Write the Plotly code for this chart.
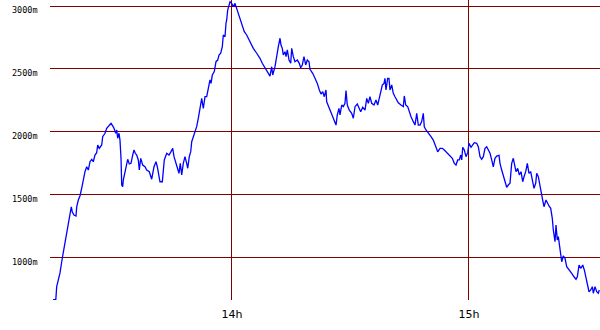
import plotly.graph_objects as go

# time in minutes after 13:00
minutes = [14.7, 15.4, 15.63, 16.46, 17.04, 17.73, 18.16, 18.56, 18.99, 19.32, 19.58, 20.0, 20.51, 20.69, 21.1, 21.53, 21.96, 22.36, 22.79, 23.22, 23.63, 24.06, 24.49, 24.89, 25.32, 25.75, 26.01, 26.41, 27.02, 27.27, 27.86, 28.29, 28.95, 29.38, 29.81, 30.14, 30.57, 30.82, 31.07, 31.4, 31.65, 31.91, 32.09, 32.34, 32.49, 32.92, 33.35, 33.6, 34.01, 34.44, 34.87, 35.2, 35.53, 35.88, 36.29, 36.54, 36.9, 37.4, 37.98, 38.41, 39.07, 39.68, 40.26, 40.77, 41.1, 41.61,
           41.78, 42.37, 42.87, 43.48, 44.06, 44.57, 45.0, 45.33, 45.76, 46.27, 46.59, 46.92, 47.28, 47.68, 48.11, 48.54, 48.8, 49.2, 49.56, 49.81, 50.31, 50.64, 51.07, 51.48, 51.91, 52.34, 52.75, 53.18, 53.61, 54.01, 54.44, 54.7, 55.03, 55.53, 55.71, 55.96, 56.39, 56.72, 57.15, 57.56, 57.81, 58.24, 58.49, 58.67, 58.92, 59.25, 59.51, 59.94, 60.34, 60.77, 61.2, 61.61, 62.04, 62.47, 63.13, 63.73, 64.57, 65.41, 66.27, 67.1, 67.68, 68.19,
           68.62, 69.2, 69.63, 70.06, 70.32, 70.9, 71.33, 71.74, 72.17, 72.42, 72.75, 73.0, 73.43, 73.69, 74.02, 74.45, 74.88, 75.13, 75.54, 75.96, 76.55, 77.05, 77.41, 77.81, 78.24, 78.67, 79.08, 79.51, 79.76, 80.44, 81.03, 81.61, 82.12, 82.55, 82.98, 83.38, 83.81, 83.99, 84.65, 85.26, 85.84, 86.35, 86.67, 87.1, 87.36, 87.79, 88.19, 88.62, 88.88, 89.21, 89.71, 90.32, 90.73, 91.16, 91.74, 92.25, 92.6, 93.11, 93.69,
           94.12, 94.53, 94.95, 95.38, 95.97, 96.47, 96.9, 97.31, 97.74, 98.07, 98.5, 98.75, 99.0, 99.43, 99.76, 100.02, 100.45, 100.85, 101.28, 101.71, 102.12, 102.8, 103.39, 103.64, 104.0, 104.5, 104.91, 105.34, 105.92, 106.35, 106.78, 107.19, 107.61, 108.04, 108.45, 108.7, 109.13, 109.71, 110.4, 110.98, 111.59, 112.1, 112.68, 113.26, 113.77, 114.2, 114.63, 115.21, 115.8, 116.3, 116.73, 117.16, 117.57, 117.92, 118.18, 118.43, 118.83, 119.26, 119.69, 120.02, 120.53, 120.96, 121.37,
           121.97, 122.38, 122.81, 123.24, 123.65, 124.07, 124.5, 124.91, 125.34, 125.77, 126.17, 126.6, 127.03, 127.62, 127.87, 128.3, 128.71, 129.14, 129.57, 129.97, 130.4, 130.83, 131.24, 131.49, 131.92, 132.35, 132.76, 133.19, 133.62, 133.95, 134.38, 134.79, 135.21, 135.64, 136.05, 136.48, 136.91, 137.16, 137.57, 138.0, 138.43, 138.68, 139.01, 139.52, 139.85, 140.28, 140.71, 141.11, 141.37, 141.8, 142.05, 142.38, 142.64, 142.89, 143.24, 143.5, 143.9, 144.33, 144.76, 145.35, 146.03, 146.61, 147.12, 147.45, 147.88, 148.39, 148.82, 149.22, 149.65, 149.98, 150.41, 150.84, 151.25, 151.5, 151.93, 152.36, 152.76, 153.01]

altitude = [670, 670, 772, 881, 998, 1119, 1198, 1278, 1341, 1405, 1365, 1341, 1333, 1405, 1460, 1494, 1555, 1619, 1685, 1724, 1698, 1764, 1783, 1764, 1817, 1836, 1897, 1870, 1897, 1963, 1990, 2029, 2055, 2069, 2048, 2029, 1990, 2016, 1950, 1990, 1936, 1791, 1579, 1566, 1619, 1685, 1738, 1783, 1746, 1751, 1817, 1857, 1831, 1817, 1778, 1698, 1791, 1738, 1724, 1698, 1685, 1625, 1724, 1764, 1724, 1645,
            1605, 1605, 1778, 1831, 1817, 1844, 1870, 1804, 1751, 1698, 1672, 1751, 1659, 1751, 1804, 1751, 1712, 1804, 1844, 1923, 1976, 2002, 2042, 2109, 2201, 2267, 2188, 2280, 2280, 2347, 2413, 2386, 2452, 2479, 2506, 2558, 2571, 2611, 2625, 2677, 2770, 2756, 2863, 2889, 2968, 3008, 3034, 3021, 2994, 3021, 2982, 2942, 2889, 2849, 2796, 2770, 2717, 2664, 2625, 2585, 2545, 2518,
            2506, 2466, 2444, 2518, 2452, 2518, 2611, 2677, 2744, 2690, 2664, 2611, 2637, 2598, 2651, 2571, 2545, 2664, 2598, 2558, 2571, 2545, 2510, 2532, 2598, 2532, 2571, 2558, 2498, 2466, 2426, 2386, 2333, 2301, 2320, 2280, 2333, 2240, 2188, 2135, 2095, 2055, 2135, 2188, 2135, 2214, 2201, 2228, 2328, 2214, 2174, 2148, 2109, 2201, 2222, 2188, 2161, 2196, 2174,
            2267, 2228, 2280, 2228, 2214, 2254, 2214, 2267, 2307, 2373, 2386, 2426, 2333, 2426, 2426, 2333, 2373, 2307, 2280, 2254, 2232, 2214, 2201, 2286, 2214, 2201, 2161, 2121, 2082, 2055, 2148, 2055, 2055, 2082, 2148, 2042, 2016, 1994, 1963, 1936, 1883, 1843, 1870, 1870, 1857, 1843, 1823, 1804, 1791, 1751, 1738, 1778, 1778, 1817, 1778, 1878, 1857, 1804, 1836, 1910, 1878, 1897, 1915,
            1910, 1883, 1804, 1783, 1804, 1870, 1883, 1857, 1831, 1778, 1724, 1791, 1809, 1815, 1751, 1698, 1659, 1605, 1561, 1579, 1593, 1751, 1791, 1751, 1685, 1712, 1659, 1685, 1605, 1645, 1685, 1751, 1672, 1685, 1605, 1553, 1593, 1672, 1645, 1553, 1500, 1460, 1407, 1460, 1434, 1413, 1394, 1315, 1222, 1129, 1262, 1143, 1169, 1116, 1050, 970, 1016, 997, 931, 910, 878, 851, 831, 851, 944, 918, 944, 905, 851, 786, 732, 746, 772, 720, 772, 732, 720, 746]

y_ticks = [1000, 1500, 2000, 2500, 3000]
y_tick_labels = ["1000m", "1500m", "2000m", "2500m", "3000m"]
x_ticks = [60, 120]
x_tick_labels = ["14h", "15h"]

GRID = "#800000"

fig = go.Figure()
fig.add_trace(go.Scatter(
    x=minutes, y=altitude, mode="lines",
    line=dict(color="#0000FF", width=1.3),
    hoverinfo="skip", showlegend=False,
))

fig.update_layout(
    width=600, height=330,
    margin=dict(l=50, r=0, t=0, b=30),
    paper_bgcolor="white", plot_bgcolor="white",
    showlegend=False,
)
fig.update_xaxes(
    range=[13.93, 153.19],
    tickmode="array", tickvals=x_ticks, ticktext=x_tick_labels,
    showgrid=True, gridcolor=GRID, gridwidth=1,
    zeroline=False, showline=False, ticks="",
    ticklabelstandoff=6,
    tickfont=dict(family="DejaVu Sans", size=11, color="black"),
)
fig.update_yaxes(
    range=[666.5, 3047.6],
    tickmode="array", tickvals=y_ticks, ticktext=y_tick_labels,
    showgrid=True, gridcolor=GRID, gridwidth=1,
    zeroline=False, showline=False, ticks="",
    showticklabels=False,
)

# y labels sit slightly below their grid lines, as in the original
for val, lab in zip(y_ticks, y_tick_labels):
    fig.add_annotation(
        x=0, xref="paper", xanchor="right", xshift=-10,
        y=val, yref="y", yanchor="middle", yshift=-4,
        text=lab, showarrow=False,
        font=dict(family="DejaVu Sans Mono", size=8.5, color="black"),
    )

fig.write_html("out.html")
